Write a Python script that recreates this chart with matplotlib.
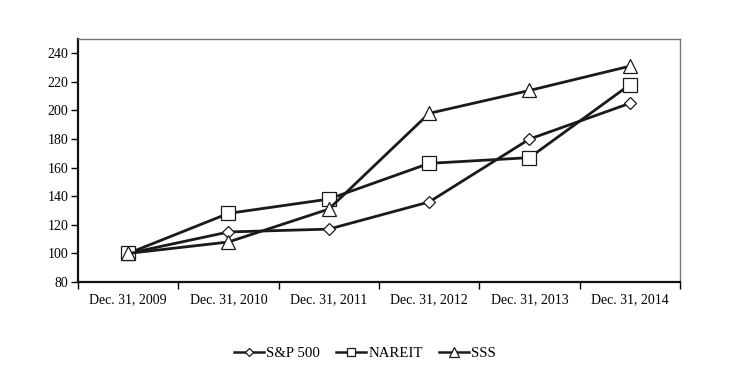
import matplotlib.pyplot as plt
import numpy as np

plt.rcParams['font.family'] = ['Liberation Serif', 'DejaVu Serif']

dates = ["Dec. 31, 2009", "Dec. 31, 2010", "Dec. 31, 2011",
         "Dec. 31, 2012", "Dec. 31, 2013", "Dec. 31, 2014"]
sp500 = [100, 115, 117, 136, 180, 205]
nareit = [100, 128, 138, 163, 167, 218]
sss = [100, 108, 131, 198, 214, 231]

fig = plt.figure(figsize=(7.3, 3.75), dpi=100)
ax = fig.add_axes([0.1068, 0.248, 0.8247, 0.648])

x = np.arange(len(dates))
line_kw = dict(color='#1a1a1a', lw=2, markerfacecolor='white',
               markeredgecolor='#1a1a1a', markeredgewidth=0.9)
ax.plot(x, sp500, marker='D', ms=6.5, label='S&P 500', **line_kw)
ax.plot(x, nareit, marker='s', ms=10, label='NAREIT', **line_kw)
ax.plot(x, sss, marker='^', ms=10.5, label='SSS', **line_kw)

ax.set_xlim(-0.5, 5.5)
ax.set_ylim(80, 250)
ax.set_yticks(range(80, 241, 20))
ax.set_xticks(x)
ax.set_xticklabels(dates)
ax.set_xticks(np.arange(-0.5, 5.6, 1), minor=True)
ax.tick_params(axis='x', which='major', length=0, labelsize=10, pad=8)
ax.tick_params(axis='x', which='minor', length=5, width=1, direction='out')
ax.tick_params(axis='y', length=5, width=1, direction='out', labelsize=10, pad=2)

for s in ['left', 'bottom']:
    ax.spines[s].set_linewidth(1.6)
    ax.spines[s].set_color('#111111')
for s in ['top', 'right']:
    ax.spines[s].set_linewidth(1.0)
    ax.spines[s].set_color('#777777')

leg = fig.legend(loc='center', bbox_to_anchor=(0.5, 0.058), ncol=3, frameon=False,
                 fontsize=10.7, handlelength=2.0, handletextpad=0.15,
                 columnspacing=1.1)
for h, size in zip(leg.legend_handles, [4.5, 6, 6.5]):
    h.set_markersize(size)
    h.set_linewidth(1.8)

fig.savefig('out.png', dpi=100)
